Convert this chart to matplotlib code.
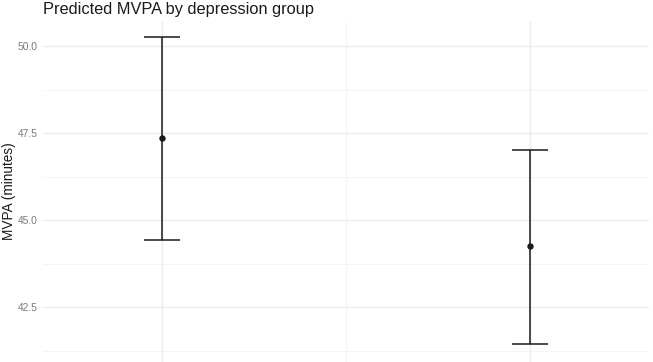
import matplotlib
matplotlib.use("Agg")
import matplotlib.pyplot as plt
from matplotlib.ticker import MultipleLocator

# data (x tick labels are cropped out of the picture)
groups = ["Group 1", "Group 2"]
mvpa_mean = [47.36, 44.25]
ci_low = [44.43, 41.44]
ci_high = [50.27, 47.01]

plt.rcParams["font.family"] = ["Liberation Sans", "DejaVu Sans"]

fig = plt.figure(figsize=(6.53, 3.62), dpi=100)
# panel spans x 43..649 px, y 22..362 px
ax = fig.add_axes([43 / 653, 0.0, (649 - 43) / 653, (362 - 22) / 362])

x = list(range(len(groups)))
err_lo = [m - l for m, l in zip(mvpa_mean, ci_low)]
err_hi = [h - m for m, h in zip(mvpa_mean, ci_high)]
ax.errorbar(x, mvpa_mean, yerr=[err_lo, err_hi], fmt="o", color="#1a1a1a",
            ecolor="#1a1a1a", elinewidth=1.1, capsize=13.2, capthick=1.1,
            markersize=3.6, zorder=3)

ax.set_xlim(-0.3234, 1.3234)
ax.yaxis.set_major_locator(MultipleLocator(2.5))
ax.yaxis.set_minor_locator(MultipleLocator(1.25))
ax.yaxis.set_major_formatter(lambda v, pos: f"{v:.1f}")
ax.set_ylim(40.92, 50.69)
ax.set_xticks(x)
ax.set_xticks([0.5], minor=True)
ax.set_xticklabels([])

ax.grid(which="major", color="#EBEBEB", linewidth=0.9)
ax.grid(which="minor", color="#F2F2F2", linewidth=0.6)
ax.set_axisbelow(True)
for s in ax.spines.values():
    s.set_visible(False)
ax.tick_params(which="both", length=0)
ax.tick_params(axis="y", labelsize=7.4, labelcolor="#7a7a7a", pad=4)

fig.text(9 / 653, 1 - 191 / 362, "MVPA (minutes)", rotation=90,
         fontsize=9.8, color="#1a1a1a", ha="center", va="center")
fig.text(43 / 653, 1 - 14 / 362, "Predicted MVPA by depression group",
         fontsize=11.8, color="#1a1a1a", ha="left", va="baseline")

fig.savefig("out.png", dpi=100)
